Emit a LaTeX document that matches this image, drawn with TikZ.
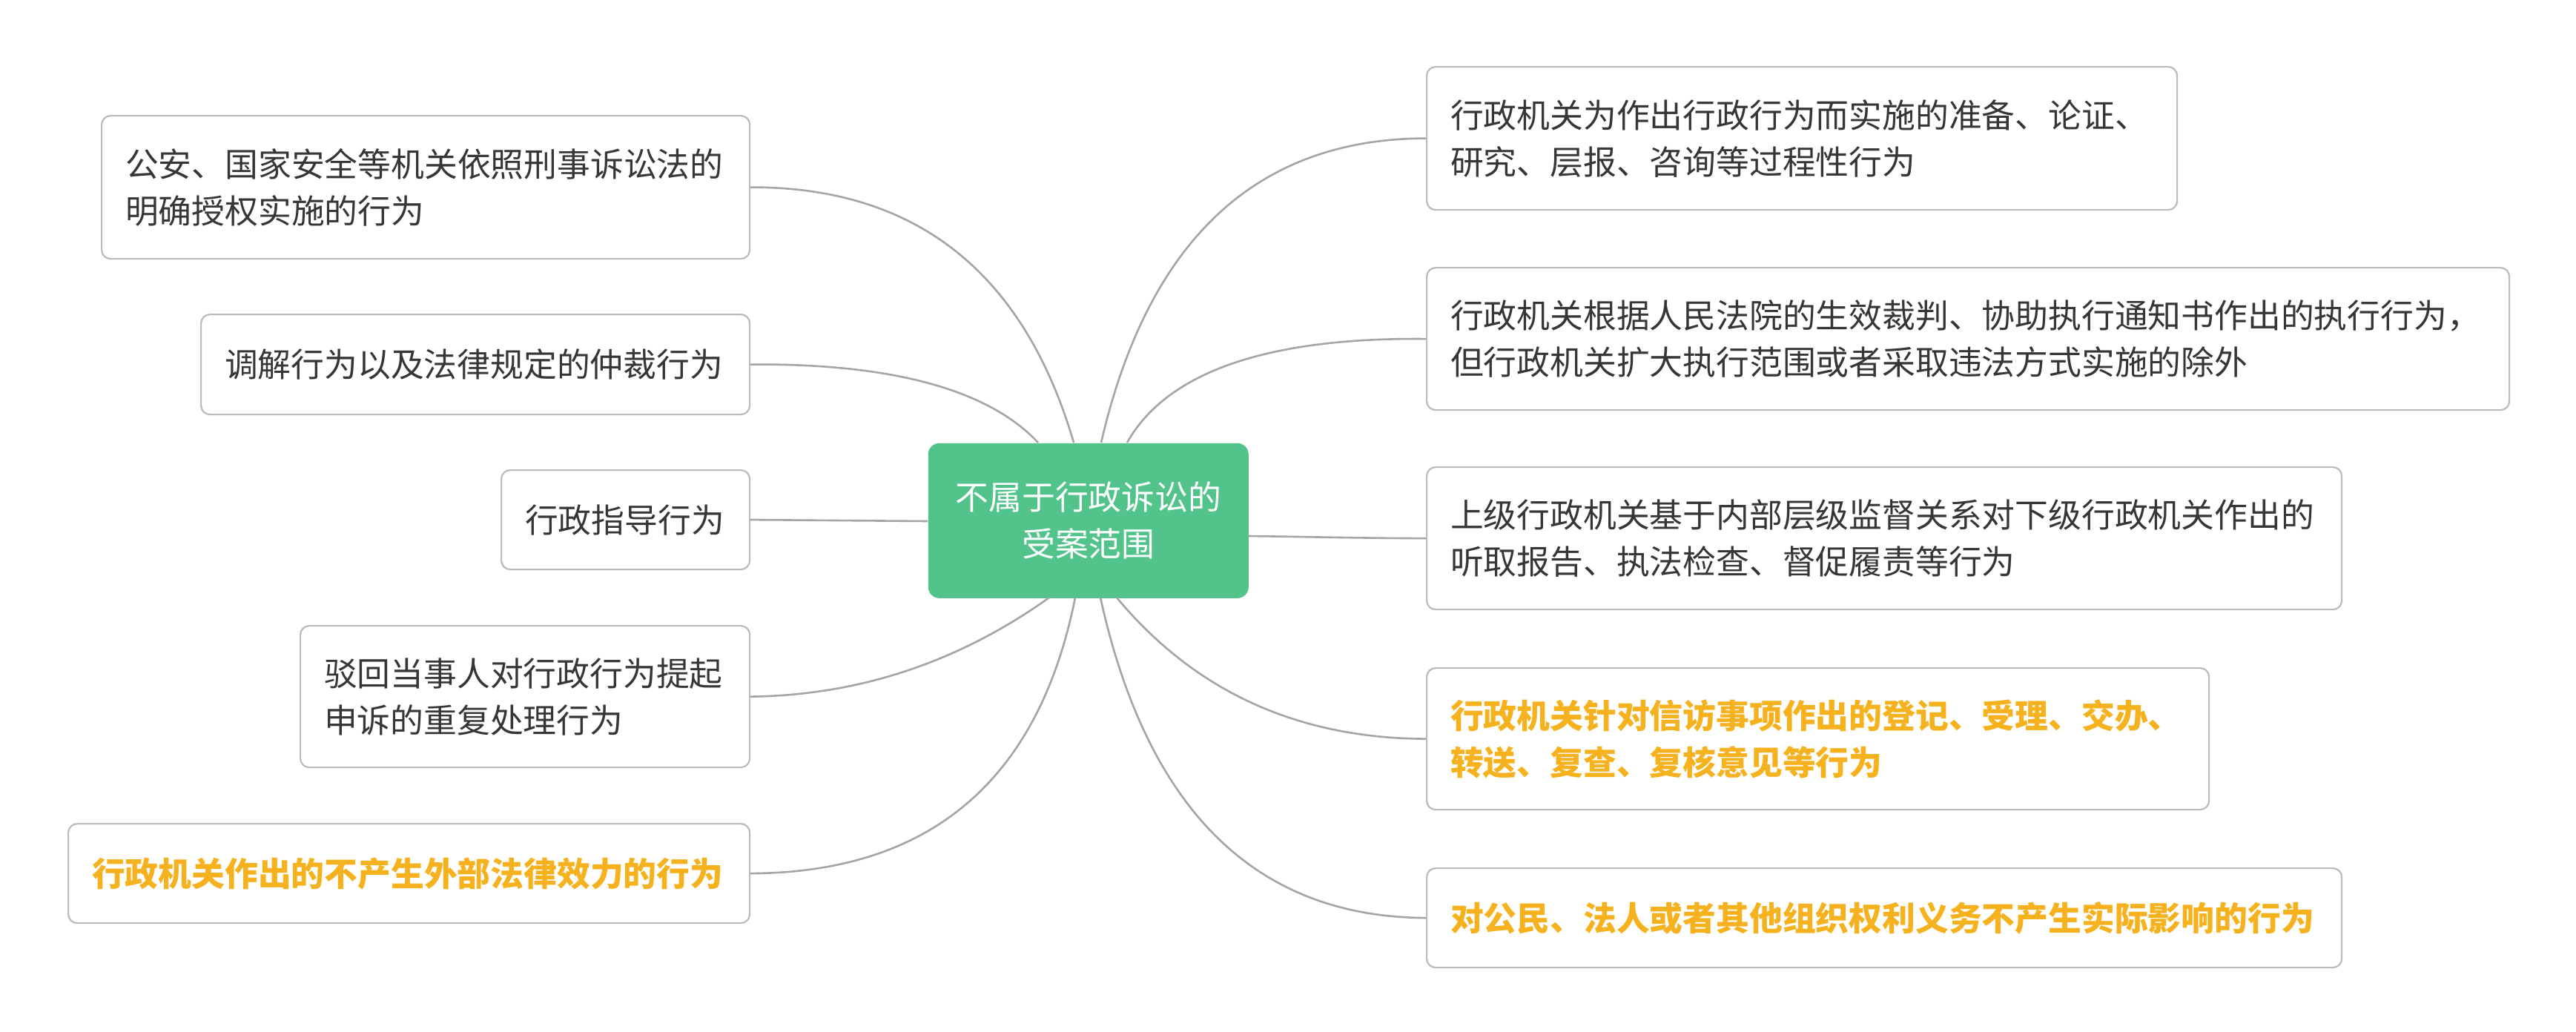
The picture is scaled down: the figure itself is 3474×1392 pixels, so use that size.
\documentclass[tikz,border=0pt]{standalone}
\usepackage{fontspec}
\setmainfont{Noto Sans CJK SC}
\usetikzlibrary{calc}
\definecolor{rootgreen}{HTML}{52C38B}
\definecolor{boxline}{HTML}{BBBBBB}
\definecolor{linkline}{HTML}{A5A5A5}
\definecolor{txt}{HTML}{363636}
\definecolor{hl}{HTML}{F6B21E}
\begin{document}
\begin{tikzpicture}[x=0.25pt,y=-0.25pt,
  every node/.style={font=\fontsize{11.2pt}{15.75pt}\selectfont},
  rootbox/.style={fill=rootgreen, text=white, rounded corners=3.75pt, align=center,
    anchor=north west, inner sep=0pt, minimum width=108pt, minimum height=52.25pt},
  leaf/.style={draw=boxline, line width=0.55pt, fill=white, rounded corners=3pt, text=txt,
    align=left, anchor=north west, inner xsep=8pt, inner ysep=0pt},
  hot/.style={leaf, text=hl, font=\fontsize{11.2pt}{15.75pt}\selectfont\bfseries},
  link/.style={draw=linkline, line width=0.65pt}
]
\useasboundingbox[fill=white] (0,0) rectangle (3474,1392);

\node[rootbox] (root) at (1251,597) {不属于行政诉讼的\\受案范围};

% left branches
\node[leaf, text width=202.5pt, minimum height=48.25pt] (L1) at (136,155)
  {公安、国家安全等机关依照刑事诉讼法的\\明确授权实施的行为};
\node[leaf, text width=169pt, minimum height=33.75pt] (L2) at (270,423)
  {调解行为以及法律规定的仲裁行为};
\node[leaf, text width=67.75pt, minimum height=33.5pt] (L3) at (675,633)
  {行政指导行为};
\node[leaf, text width=135.5pt, minimum height=47.75pt] (L4) at (404,843)
  {驳回当事人对行政行为提起\\申诉的重复处理行为};
\node[hot, text width=213.75pt, minimum height=33.5pt] (L5) at (91,1110)
  {行政机关作出的不产生外部法律效力的行为};

% right branches
\node[leaf, text width=237pt, minimum height=48.25pt] (R1) at (1923,89)
  {行政机关为作出行政行为而实施的准备、论证、\\研究、层报、咨询等过程性行为};
\node[leaf, text width=349pt, minimum height=48pt] (R2) at (1923,360)
  {行政机关根据人民法院的生效裁判、协助执行通知书作出的执行行为，\\但行政机关扩大执行范围或者采取违法方式实施的除外};
\node[leaf, text width=292.5pt, minimum height=48pt] (R3) at (1923,629)
  {上级行政机关基于内部层级监督关系对下级行政机关作出的\\听取报告、执法检查、督促履责等行为};
\node[hot, text width=247.75pt, minimum height=47.75pt] (R4) at (1923,900)
  {行政机关针对信访事项作出的登记、受理、交办、\\转送、复查、复核意见等行为};
\node[hot, text width=292.5pt, minimum height=33.5pt] (R5) at (1923,1170)
  {对公民、法人或者其他组织权利义务不产生实际影响的行为};

% start points on the root
\coordinate (sL1) at (1448,597);
\coordinate (sL2) at (1400,597);
\coordinate (sL3) at (1251,703);
\coordinate (sL4) at (1415,806);
\coordinate (sL5) at (1450,806);
\coordinate (sR1) at (1485,597);
\coordinate (sR2) at (1520,597);
\coordinate (sR3) at (1683,723);
\coordinate (sR4) at (1506,806);
\coordinate (sR5) at (1484,806);

\draw[link] (sL1) .. controls (1380.7,367) and (1234.7,252) .. (L1.east);
\draw[link] (sL2) .. controls (1333.3,525.7) and (1203.3,490) .. (L2.east);
\draw[link] (sL3) -- (L3.east);
\draw[link] (sL4) .. controls (1291.7,894) and (1156.7,938) .. (L4.east);
\draw[link] (sL5) .. controls (1400.7,1053.3) and (1254,1177) .. (L5.east);

\draw[link] (sR1) .. controls (1548.3,323.7) and (1694.3,187) .. (R1.west);
\draw[link] (sR2) .. controls (1573.3,502.3) and (1707.7,455) .. (R2.west);
\draw[link] (sR3) .. controls (1760,724) and (1840,726) .. (R3.west);
\draw[link] (sR4) .. controls (1611.3,932.7) and (1750.3,996) .. (R4.west);
\draw[link] (sR5) .. controls (1547.3,1093.3) and (1693.7,1237) .. (R5.west);
\end{tikzpicture}
\end{document}
